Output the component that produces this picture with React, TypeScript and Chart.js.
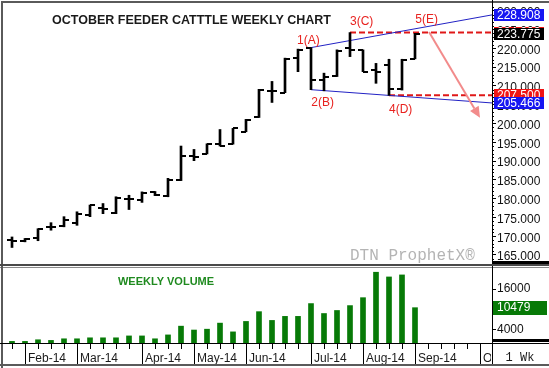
import React, { useEffect, useRef } from 'react';
import { Chart, registerables } from 'chart.js';

Chart.register(...registerables);

const FONT = "'Liberation Sans', Arial, sans-serif";
const MONO = "'Liberation Mono', 'Courier New', monospace";

// ---- data (one entry per week, Jan-27-2014 .. Sep-01-2014) ----
const opens = [169.0, 168.7, 169.4, 172.5, 172.7, 173.4, 175.6, 177.5, 176.2, 179.8, 179.6, 181.8, 180.7, 184.9, 191.3, 191.9, 194.6, 194.5, 197.8, 201.6, 208.6, 208.2, 217.4, 220.2, 211.6, 212.7, 220.0, 219.6, 214.3, 215.6, 209.3, 217.2];
const highs = [169.8, 169.4, 172.0, 173.6, 175.2, 176.5, 178.3, 178.7, 180.5, 180.9, 181.8, 181.9, 185.4, 194.0, 193.1, 194.6, 198.4, 198.7, 201.1, 209.1, 211.2, 217.4, 219.8, 220.2, 213.4, 219.6, 224.2, 219.6, 216.0, 217.1, 217.1, 224.0];
const lows = [167.0, 168.5, 168.8, 171.6, 172.5, 172.9, 175.2, 176.0, 176.0, 177.1, 179.0, 180.8, 180.5, 184.8, 190.1, 191.9, 194.0, 194.5, 197.8, 201.6, 205.6, 208.2, 213.8, 209.0, 208.7, 212.5, 217.8, 213.8, 210.7, 207.5, 208.9, 217.2];
const closes = [168.8, 169.3, 172.0, 172.4, 174.4, 176.0, 178.2, 177.3, 180.3, 179.9, 181.6, 180.9, 184.9, 191.3, 191.2, 194.6, 194.0, 198.7, 200.9, 208.9, 208.6, 217.1, 219.6, 211.6, 212.4, 219.4, 219.6, 213.8, 213.8, 209.3, 216.9, 223.775];
const volumes = [480, 480, 960, 770, 1250, 1250, 1540, 1540, 1540, 2100, 2100, 1250, 2400, 5000, 3850, 4100, 5900, 3300, 6400, 9300, 6700, 7900, 7900, 11700, 8750, 9650, 11100, 13450, 21000, 19600, 20200, 10479];

const priceTicks = [165, 170, 175, 180, 185, 190, 195, 200, 205, 210, 215, 220, 225, 230];
const volumeTicks = [4000, 10000, 16000];
const monthStartWeek = [1, 5, 10, 14, 18, 23, 27, 31, 36];
const monthLabels = ['Feb-14', 'Mar-14', 'Apr-14', 'May-14', 'Jun-14', 'Jul-14', 'Aug-14', 'Sep-14', 'Oct-14'];
const WEEK_SLOTS = 37;

const upperChannel = { fromWeek: 23, fromValue: 220.2, toValue: 228.908 };
const lowerChannel = { fromWeek: 23, fromValue: 209.0, toValue: 205.466 };
const resistance = { fromWeek: 26, value: 224.2 };
const support = { fromWeek: 29, value: 207.5 };
const arrowFrom = { x: 32.08, y: 224.35 };
const arrowTo = { x: 36.0, y: 201.5 };

const waveLabels = [
  { text: '1(A)', x: 22.8, y: 222.0 },
  { text: '2(B)', x: 23.9, y: 205.5 },
  { text: '3(C)', x: 26.9, y: 227.0 },
  { text: '4(D)', x: 29.9, y: 203.6 },
  { text: '5(E)', x: 31.9, y: 227.5 },
];

const priceMarkers = [
  { value: 224.2, color: '#f01414' },
  { value: 223.775, color: '#000000' },
  { value: 228.908, color: '#1616f2' },
  { value: 207.5, color: '#f01414' },
  { value: 205.466, color: '#1616f2' },
];
const lastVolume = 10479;

// ---- layout constants ----
const W = 549;
const PRICE_H = 266;
const VOL_H = 102;
const X_MIN = -8 / 13;
const X_MAX = X_MIN + 488 / 13;
const Y_MAX = 200 + (123.5 - 4) / 3.757;
const Y_MIN = 200 - (264 - 123.5) / 3.757;
const V_MAX = 75 / 3.37 * 1000;

const RED = '#e8221f';
const GREEN = '#077a07';

export default function App() {
  const priceRef = useRef<HTMLCanvasElement | null>(null);
  const volRef = useRef<HTMLCanvasElement | null>(null);

  useEffect(() => {
    Chart.defaults.font.family = FONT;

    const pricePlugin = {
      id: 'pricePlugin',
      beforeDraw(chart: any) {
        const ctx = chart.ctx;
        ctx.save();
        ctx.fillStyle = '#ffffff';
        ctx.fillRect(0, 0, W, PRICE_H);
        ctx.restore();
      },
      beforeDatasetsDraw(chart: any) {
        const ctx = chart.ctx;
        ctx.save();
        ctx.fillStyle = '#1a1a1a';
        ctx.font = `bold 12.5px ${FONT}`;
        ctx.textAlign = 'left';
        ctx.textBaseline = 'middle';
        ctx.fillText('OCTOBER FEEDER CATTTLE WEEKLY CHART', 52, 21);
        ctx.fillStyle = '#b4b4b4';
        ctx.font = `16px ${MONO}`;
        ctx.fillText('DTN ProphetX\u00ae', 350, 256);
        ctx.restore();
      },
      afterDatasetsDraw(chart: any) {
        const ctx = chart.ctx;
        const xs = chart.scales.x;
        const ys = chart.scales.y;
        ctx.save();
        ctx.strokeStyle = '#000';
        ctx.lineWidth = 2;
        ctx.beginPath();
        for (let i = 0; i < opens.length; i++) {
          const px = Math.round(xs.getPixelForValue(i));
          const yo = Math.round(ys.getPixelForValue(opens[i]));
          const yc = Math.round(ys.getPixelForValue(closes[i]));
          ctx.moveTo(px - 5, yo);
          ctx.lineTo(px, yo);
          ctx.moveTo(px, yc);
          ctx.lineTo(px + 5, yc);
        }
        ctx.stroke();

        // arrow
        const ax0 = xs.getPixelForValue(arrowFrom.x);
        const ay0 = ys.getPixelForValue(arrowFrom.y);
        const ax1 = xs.getPixelForValue(arrowTo.x);
        const ay1 = ys.getPixelForValue(arrowTo.y);
        const ang = Math.atan2(ay1 - ay0, ax1 - ax0);
        const headL = 11;
        const headW = 5;
        const bx = ax1 - headL * Math.cos(ang);
        const by = ay1 - headL * Math.sin(ang);
        ctx.strokeStyle = '#f28b8b';
        ctx.fillStyle = '#f28b8b';
        ctx.lineWidth = 2;
        ctx.beginPath();
        ctx.moveTo(ax0, ay0);
        ctx.lineTo(bx, by);
        ctx.stroke();
        ctx.beginPath();
        ctx.moveTo(ax1, ay1);
        ctx.lineTo(bx + headW * Math.sin(ang), by - headW * Math.cos(ang));
        ctx.lineTo(bx - headW * Math.sin(ang), by + headW * Math.cos(ang));
        ctx.closePath();
        ctx.fill();

        // wave labels
        ctx.fillStyle = RED;
        ctx.font = `12px ${FONT}`;
        ctx.textAlign = 'center';
        ctx.textBaseline = 'middle';
        for (const w of waveLabels) {
          ctx.fillText(w.text, xs.getPixelForValue(w.x), ys.getPixelForValue(w.y));
        }
        ctx.restore();
      },
      afterDraw(chart: any) {
        const ctx = chart.ctx;
        const ys = chart.scales.y;
        ctx.save();
        // minor ticks
        ctx.fillStyle = '#000';
        for (let v = Math.ceil(Y_MIN); v <= Y_MAX; v++) {
          if (v % 5 === 0) continue;
          ctx.fillRect(492, Math.round(ys.getPixelForValue(v)), 2, 1);
        }
        // value boxes
        ctx.font = `12px ${FONT}`;
        ctx.textAlign = 'left';
        ctx.textBaseline = 'middle';
        for (const m of priceMarkers) {
          const y = ys.getPixelForValue(m.value);
          ctx.fillStyle = m.color;
          ctx.fillRect(494, Math.round(y - 6), 50, 12);
          ctx.fillStyle = '#ffffff';
          ctx.fillText(m.value.toFixed(3), 497, y + 0.5);
        }
        // frame
        ctx.fillStyle = '#5a5a5a';
        ctx.fillRect(1, 1, W - 1, 2);
        ctx.fillRect(1, 1, 2, PRICE_H);
        ctx.fillStyle = '#000';
        ctx.fillRect(492, 0, 1, PRICE_H);
        ctx.fillRect(492, 261, W - 492, 3);
        ctx.fillStyle = '#4a4a4a';
        ctx.fillRect(0, 264, W, 2);
        ctx.restore();
      },
    };

    const volPlugin = {
      id: 'volPlugin',
      beforeDraw(chart: any) {
        const ctx = chart.ctx;
        ctx.save();
        ctx.fillStyle = '#ffffff';
        ctx.fillRect(0, 0, W, VOL_H);
        ctx.fillStyle = '#1f8a1f';
        ctx.font = `bold 11px ${FONT}`;
        ctx.textAlign = 'center';
        ctx.textBaseline = 'middle';
        ctx.fillText('WEEKLY VOLUME', 166, 16);
        ctx.restore();
      },
      afterDraw(chart: any) {
        const ctx = chart.ctx;
        const xs = chart.scales.x;
        const ys = chart.scales.y;
        ctx.save();
        // value box
        const y = ys.getPixelForValue(lastVolume);
        ctx.fillStyle = GREEN;
        ctx.fillRect(493, Math.round(y - 7), 54, 14);
        ctx.fillStyle = '#ffffff';
        ctx.font = `12px ${FONT}`;
        ctx.textAlign = 'left';
        ctx.textBaseline = 'middle';
        ctx.fillText(String(lastVolume), 497, y + 0.5);

        // frame
        ctx.fillStyle = '#8a8a8a';
        ctx.fillRect(0, 1, W, 1);
        ctx.fillStyle = '#5a5a5a';
        ctx.fillRect(1, 0, 2, VOL_H);
        ctx.fillRect(0, 98, W, 2);
        ctx.fillStyle = '#000';
        ctx.fillRect(492, 0, 1, 98);
        ctx.fillRect(492, 73, W - 492, 3);
        ctx.fillRect(0, 77, W, 1);

        // date axis
        for (let i = 0; i < WEEK_SLOTS; i++) {
          const px = Math.round(xs.getPixelForValue(i));
          ctx.fillRect(px, 78, 1, 5);
        }
        ctx.beginPath();
        ctx.rect(3, 78, 488, 20);
        ctx.clip();
        ctx.fillStyle = '#000';
        ctx.font = `12px ${FONT}`;
        ctx.textAlign = 'left';
        ctx.textBaseline = 'middle';
        for (let k = 0; k < monthStartWeek.length; k++) {
          const px = Math.round(xs.getPixelForValue(monthStartWeek[k]));
          ctx.fillStyle = '#000';
          ctx.fillRect(px, 78, 1, 20);
          ctx.fillStyle = '#1a1a1a';
          ctx.fillText(monthLabels[k], px + 3, 92.5);
        }
        ctx.restore();

        ctx.save();
        ctx.fillStyle = '#1a1a1a';
        ctx.font = `12px ${MONO}`;
        ctx.textAlign = 'center';
        ctx.textBaseline = 'middle';
        ctx.fillText('1 Wk', 520, 91.5);
        ctx.restore();
      },
    };

    const lineDs = (pts: { x: number; y: number }[], color: string, width: number, dash: number[] = []) => ({
      type: 'line' as const,
      data: pts,
      borderColor: color,
      borderWidth: width,
      borderDash: dash,
      pointRadius: 0,
      fill: false,
      tension: 0,
    });

    const priceChart = new Chart(priceRef.current as HTMLCanvasElement, {
      type: 'bar',
      data: {
        datasets: [
          {
            type: 'bar',
            data: highs.map((h, i) => ({ x: i, y: [lows[i], h] })) as any,
            backgroundColor: '#000',
            barThickness: 2,
            borderWidth: 0,
          } as any,
          lineDs([{ x: upperChannel.fromWeek, y: upperChannel.fromValue }, { x: X_MAX, y: upperChannel.toValue }], '#2222c4', 1),
          lineDs([{ x: lowerChannel.fromWeek, y: lowerChannel.fromValue }, { x: X_MAX, y: lowerChannel.toValue }], '#2222c4', 1),
          lineDs([{ x: resistance.fromWeek, y: resistance.value }, { x: X_MAX, y: resistance.value }], '#e01818', 2, [6, 3]),
          lineDs([{ x: support.fromWeek, y: support.value }, { x: X_MAX, y: support.value }], '#e01818', 2, [6, 3]),
        ] as any,
      },
      options: {
        responsive: false,
        animation: false,
        events: [],
        layout: { padding: { left: 4, right: 0, top: 4, bottom: 2 } },
        plugins: { legend: { display: false }, tooltip: { enabled: false } },
        scales: {
          x: { type: 'linear', min: X_MIN, max: X_MAX, display: false, offset: false },
          y: {
            position: 'right',
            min: Y_MIN,
            max: Y_MAX,
            afterFit: (s: any) => {
              s.width = W - 492;
              s.paddingTop = 0;
              s.paddingBottom = 0;
            },
            afterBuildTicks: (s: any) => {
              s.ticks = priceTicks.map((v) => ({ value: v }));
            },
            grid: { drawOnChartArea: false, tickLength: 4, color: '#000' },
            border: { display: false },
            ticks: {
              autoSkip: false,
              padding: 1,
              labelOffset: 2,
              color: '#111',
              font: { size: 12, family: FONT },
              callback: (v: any) => Number(v).toFixed(3),
            },
          },
        },
      } as any,
      plugins: [pricePlugin],
    });

    const volChart = new Chart(volRef.current as HTMLCanvasElement, {
      type: 'bar',
      data: {
        datasets: [
          {
            data: volumes.map((v, i) => ({ x: i, y: v })) as any,
            backgroundColor: GREEN,
            barThickness: 5,
            borderWidth: 0,
          },
        ],
      },
      options: {
        responsive: false,
        animation: false,
        events: [],
        layout: { padding: { left: 4, right: 0, top: 2, bottom: 25 } },
        plugins: { legend: { display: false }, tooltip: { enabled: false } },
        scales: {
          x: { type: 'linear', min: X_MIN, max: X_MAX, display: false, offset: false },
          y: {
            position: 'right',
            min: 0,
            max: V_MAX,
            afterFit: (s: any) => {
              s.width = W - 492;
              s.paddingTop = 0;
              s.paddingBottom = 0;
            },
            afterBuildTicks: (s: any) => {
              s.ticks = volumeTicks.map((v) => ({ value: v }));
            },
            grid: { drawOnChartArea: false, tickLength: 4, color: '#000' },
            border: { display: false },
            ticks: {
              autoSkip: false,
              padding: 1,
              color: '#111',
              font: { size: 12, family: FONT },
              callback: (v: any) => String(v),
            },
          },
        },
      } as any,
      plugins: [volPlugin],
    });

    return () => {
      priceChart.destroy();
      volChart.destroy();
    };
  }, []);

  return (
    <div style={{ position: 'fixed', left: 0, top: 0, width: W, height: PRICE_H + VOL_H, background: '#fff' }}>
      <canvas ref={priceRef} width={W} height={PRICE_H} style={{ position: 'absolute', left: 0, top: 0, width: W, height: PRICE_H }} />
      <canvas ref={volRef} width={W} height={VOL_H} style={{ position: 'absolute', left: 0, top: PRICE_H, width: W, height: VOL_H }} />
    </div>
  );
}
